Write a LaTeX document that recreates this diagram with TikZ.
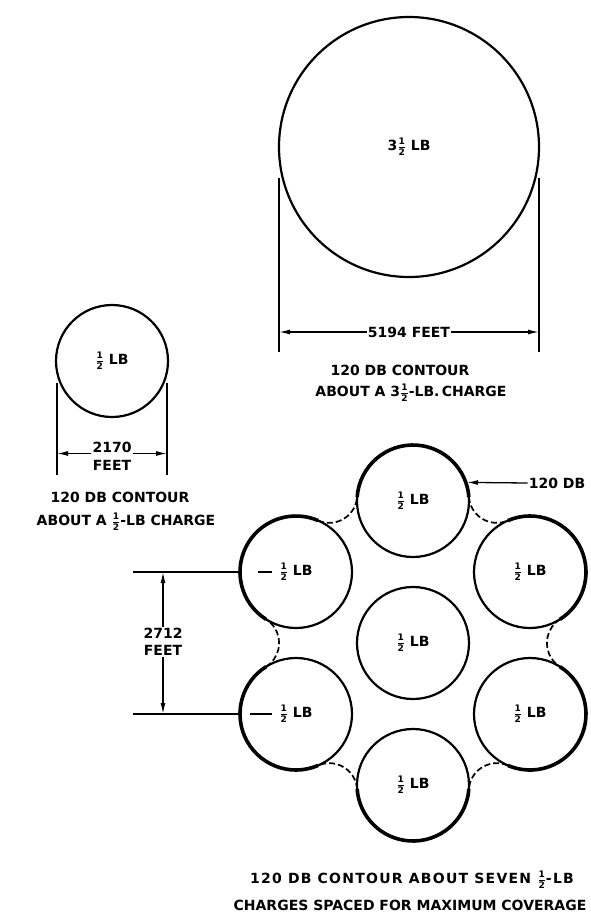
\documentclass[tikz,border=0pt]{standalone}
\usepackage{fontspec}
\setmainfont{DejaVu Sans}
\usetikzlibrary{calc,arrows.meta}

\newcommand\hf{$\frac{\mbox{\fontsize{9}{9}\selectfont 1}}{\mbox{\fontsize{9}{9}\selectfont 2}}$}
\newcommand\crad{56}
\newcommand\frad{28}

\tikzset{
  txt/.style={inner sep=1pt,font=\fontsize{14}{17}\selectfont\bfseries},
  charge/.style={circle,draw,line width=2.2pt,minimum size=112pt,inner sep=0pt,txt},
  dimline/.style={line width=1.3pt},
  dimarrow/.style={line width=1.3pt,-{Latex[length=11pt,width=5pt]}},
  contour/.style={line width=3.6pt},
  fillet/.style={line width=1.7pt,dash pattern=on 6pt off 3pt}
}

\begin{document}
\begin{tikzpicture}[x=1pt,y=-1pt]
  \useasboundingbox (0,0) rectangle (590,919);

  % one 3 1/2 lb charge
  \node[charge,minimum size=260pt] (big) at (409,147) {3\hf\ LB};
  \coordinate (bl1) at (279,178); \coordinate (bl2) at (279,352);
  \coordinate (br1) at (539,178); \coordinate (br2) at (539,352);
  \draw[dimline] (bl1) -- (bl2); \draw[dimline] (br1) -- (br2);
  \node[txt] (dbig) at (409,332) {5194 FEET};
  \draw[dimarrow] (dbig.west) -- (dbig.west -| bl1);
  \draw[dimarrow] (dbig.east) -- (dbig.east -| br1);
  \node[txt] (capb1) at (400,370) {120 DB CONTOUR};
  \node[txt] (capb2) at (411,393) {ABOUT A 3\hf-LB.\,CHARGE};

  % one 1/2 lb charge
  \node[charge] (small) at (112,361) {\hf\ LB};
  \coordinate (sl1) at (57,383); \coordinate (sl2) at (57,475);
  \coordinate (sr1) at (167,383); \coordinate (sr2) at (167,475);
  \draw[dimline] (sl1) -- (sl2); \draw[dimline] (sr1) -- (sr2);
  \node[txt] (dsmall) at (112,447) {2170};
  \node[txt] (fsmall) at (112,465) {FEET};
  \draw[dimarrow] (dsmall.south west) -- (dsmall.south west -| sl1);
  \draw[dimarrow] (dsmall.south east) -- (dsmall.south east -| sr1);
  \node[txt] (caps1) at (120,497) {120 DB CONTOUR};
  \node[txt] (caps2) at (126,522) {ABOUT A \hf-LB CHARGE};

  % seven 1/2 lb charges
  \node[charge] (c0) at (413,643) {\hf\ LB};
  \foreach \nm/\px/\py in {c1/413/501,c2/530/572,c3/530/714,c4/413/785,c5/296/714,c6/296/572}
    \node[charge] (\nm) at (\px,\py) {\hf\ LB};

  % 120 db contour round the group
  \foreach \a/\b [count=\i] in {c1/c2,c2/c3,c3/c4,c4/c5,c5/c6,c6/c1}
    \path let \p1=(\a), \p2=(\b), \n1={veclen(\x2-\x1,\y2-\y1)/2},
      \n2={sqrt((\crad+\frad)^2-(\n1)^2)} in
      ($(\a)!0.5!(\b)!\n2!90:(\b)$) coordinate (f\i);
  \foreach \cc/\fa/\fb in {c1/f6/f1,c2/f1/f2,c3/f2/f3,c4/f3/f4,c5/f4/f5,c6/f5/f6}
    \draw[contour] let \p1=(\cc), \p2=(\fa), \p3=(\fb),
      \n1={atan2(\y2-\y1,\x2-\x1)}, \n2={atan2(\y3-\y1,\x3-\x1)},
      \n3={mod(\n1-\n2+720,360)} in
      ($(\cc)!\crad pt!(\fa)$) arc[start angle=\n1, delta angle=-\n3, radius=\crad pt];
  \foreach \a/\b [count=\i] in {c1/c2,c2/c3,c3/c4,c4/c5,c5/c6,c6/c1}
    \draw[fillet] let \p1=(f\i), \p2=(\a), \p3=(\b),
      \n1={atan2(\y2-\y1,\x2-\x1)}, \n2={atan2(\y3-\y1,\x3-\x1)},
      \n3={mod(\n2-\n1+540,360)-180} in
      ($(f\i)!\frad pt!(\a)$) arc[start angle=\n1, delta angle=\n3, radius=\frad pt];
  \node[txt] (db) at (557,483) {120 DB};
  \draw[dimarrow] (db.west) -- (c1.19);

  % 2712 feet spacing
  \coordinate (e1) at (133,572); \coordinate (e2) at (133,714);
  \draw[dimline] (e1) -- (c6.west); \draw[dimline] (e2) -- (c5.west);
  \draw[dimline] ($(c6)+(-38,0)$) -- ($(c6)+(-24,0)$);
  \draw[dimline] ($(c5)+(-46,0)$) -- ($(c5)+(-24,0)$);
  \node[txt,align=center] (d2712) at (163,642) {2712\\FEET};
  \draw[dimarrow] (d2712.north) -- (d2712.north |- e1);
  \draw[dimarrow] (d2712.south) -- (d2712.south |- e2);

  \node[txt] (capc1) at (412,880) {\addfontfeature{LetterSpace=9}120 DB CONTOUR ABOUT SEVEN \hf-LB};
  \node[txt] (capc2) at (410,905) {CHARGES SPACED FOR MAXIMUM COVERAGE};
\end{tikzpicture}
\end{document}
